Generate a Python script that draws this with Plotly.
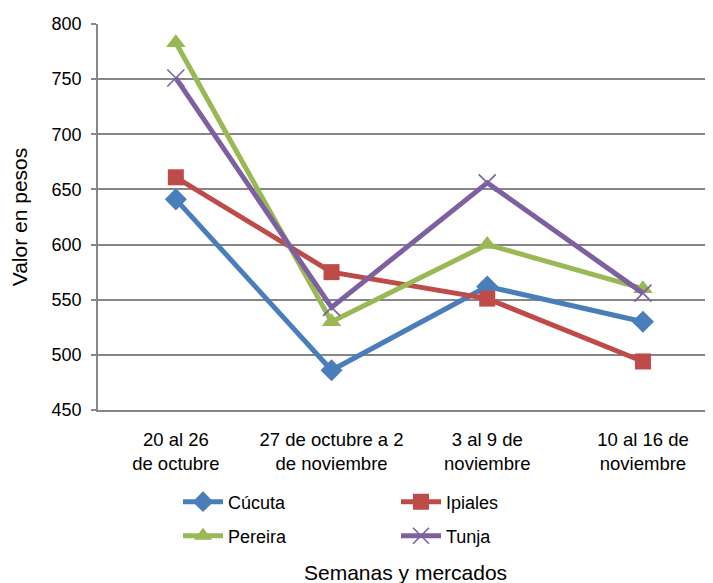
import plotly.graph_objects as go

categories = ["20 al 26<br>de octubre", "27 de octubre a 2<br>de noviembre",
              "3 al 9 de<br>noviembre", "10 al 16 de<br>noviembre"]
cucuta = [641, 486, 562, 530]
ipiales = [661, 575, 551, 494]
pereira = [783, 530, 600, 560]
tunja = [751, 543, 656, 556]
y_ticks = [450, 500, 550, 600, 650, 700, 750, 800]

W, H = 705, 575
L, R, T, B = 90, 0, 16, 173
PW = W - L - R
PH = H - T - B
font = "Liberation Sans, Arial, sans-serif"

series = [
    ("Cúcuta", cucuta, "#4A7EBB", dict(symbol="diamond", size=17), "legend", 170, 494),
    ("Ipiales", ipiales, "#BE4B48", dict(symbol="square", size=16), "legend2", 388, 494),
    ("Pereira", pereira, "#98B954", dict(symbol="triangle-up", size=17), "legend3", 170, 528),
    ("Tunja", tunja, "#7D60A0", dict(symbol="x-thin", size=17, line=dict(width=1.6, color="#7D60A0")), "legend4", 388, 528),
]

fig = go.Figure()
legends = {}
for name, vals, color, marker, leg, lx, ly in series:
    m = dict(color=color, **marker)
    fig.add_trace(go.Scatter(x=list(range(len(categories))), y=vals, name=name,
                             mode="lines+markers", line=dict(color=color, width=5),
                             marker=m, legend=leg))
    legends[leg] = dict(x=(lx - L) / PW, y=(H - B - ly) / PH, xref="paper", yref="paper",
                        xanchor="left", yanchor="middle", bgcolor="rgba(0,0,0,0)",
                        font=dict(family=font, size=18, color="#000"), itemwidth=40)

fig.update_layout(
    width=W, height=H,
    margin=dict(l=L, r=R, t=T, b=B, autoexpand=False),
    paper_bgcolor="white", plot_bgcolor="white",
    font=dict(family=font, size=18, color="#000"),
    showlegend=True,
    **legends,
    xaxis=dict(range=[-0.5, 3.45], tickvals=list(range(len(categories))), ticktext=categories,
               showgrid=False, zeroline=False, showline=True, linecolor="#868686", linewidth=1.5,
               ticks="", tickangle=0, automargin=False, ticklabelstandoff=12,
               tickfont=dict(size=18.5, family=font, color="#000")),
    yaxis=dict(range=[450, 800], tickvals=y_ticks, showgrid=True, gridcolor="#868686", gridwidth=1.5,
               zeroline=False, showline=True, linecolor="#868686", linewidth=1.5,
               ticks="outside", ticklen=5, tickcolor="#868686", tickwidth=1.5,
               ticklabelstandoff=6, automargin=False,
               tickfont=dict(size=18, family=font, color="#000"),
               title=dict(text="Valor en pesos", font=dict(size=21, family=font, color="#000"), standoff=20)),
    annotations=[dict(text="Semanas y mercados", x=0.5, y=(H - B - 564) / PH, xref="paper", yref="paper",
                      showarrow=False, xanchor="center", yanchor="middle",
                      font=dict(size=21, family=font, color="#000"))],
)

fig.write_html("out.html")
